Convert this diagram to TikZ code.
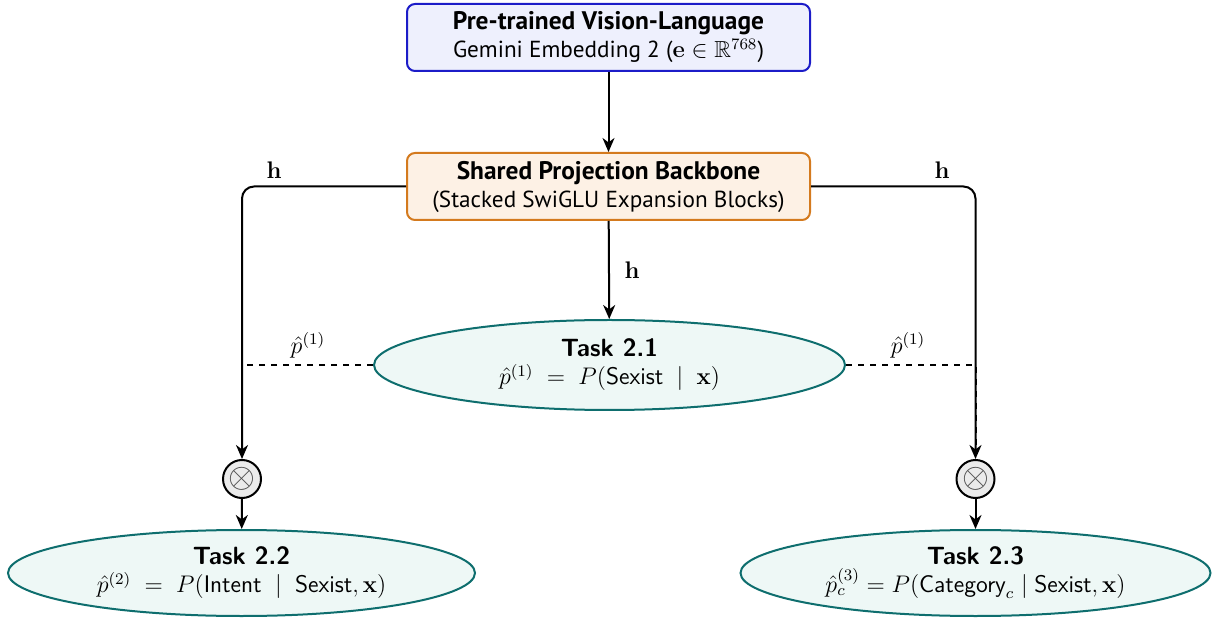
\documentclass[tikz,border=0pt]{standalone}
\usepackage[no-math]{fontspec}
\usepackage{amsmath,amssymb}
\newfontfamily\boxfont{PT Sans}
\usetikzlibrary{shapes.geometric,arrows.meta,calc}
\definecolor{topfill}{HTML}{EEF0FD}
\definecolor{topdraw}{HTML}{1C1CC8}
\definecolor{bbfill}{HTML}{FDF1E5}
\definecolor{bbdraw}{HTML}{D47A1E}
\definecolor{elfill}{HTML}{EEF8F6}
\definecolor{eldraw}{HTML}{0E6E6E}
\newcommand{\bigttl}[1]{{\fontsize{12.7}{14}\selectfont\bfseries #1}}
\newcommand{\taskttl}[1]{{\fontsize{12.5}{14}\selectfont\sffamily\bfseries #1}}
\tikzset{
  boxnode/.style={draw, line width=1pt, rounded corners=4pt, minimum width=201.5pt, minimum height=33.5pt,
    align=center, inner sep=0pt, font=\boxfont\fontsize{11.6}{14}\selectfont},
  topbox/.style={boxnode, fill=topfill, draw=topdraw},
  bbbox/.style={boxnode, fill=bbfill, draw=bbdraw},
  taskell/.style={ellipse, draw=eldraw, line width=1pt, fill=elfill, align=center, inner sep=0pt,
    font=\fontsize{12}{14}\selectfont},
  mulnode/.style={circle, draw, line width=1pt, fill=black!8, minimum size=19pt, inner sep=0pt},
  conn/.style={line width=1pt, -{Stealth[length=7pt,width=6pt,inset=2.2pt]}},
  lbl/.style={font=\fontsize{11.5}{14}\selectfont},
}
\begin{document}
\begin{tikzpicture}[x=0.5pt,y=-0.5pt]
\useasboundingbox (0,0) rectangle (1214,619);
\node[topbox] (pre) at (608.5,37.5) {\bigttl{Pre-trained Vision-Language}\\Gemini Embedding 2 ($\mathbf{e}\in\mathbb{R}^{768}$)};
\node[bbbox] (bb) at (608.5,186.5) {\bigttl{Shared Projection Backbone}\\(Stacked SwiGLU Expansion Blocks)};
\node[taskell, minimum width=235.5pt, minimum height=45pt] (t21) at (609.5,365)
  {\taskttl{Task 2.1}\\$\hat{p}^{(1)}\;=\;P(\textsf{Sexist}\;\mid\;\mathbf{x})$};
\node[mulnode] (m1) at (242,479) {\color{black!70}\fontsize{16}{16}\selectfont$\otimes$};
\node[mulnode] (m2) at (975.5,479) {\color{black!70}\fontsize{16}{16}\selectfont$\otimes$};
\node[taskell, minimum width=233.5pt, minimum height=43pt] (t22) at (241.5,573)
  {\taskttl{Task 2.2}\\$\hat{p}^{(2)}\;=\;P(\textsf{Intent}\;\mid\;\textsf{Sexist},\mathbf{x})$};
\node[taskell, minimum width=235pt, minimum height=43pt] (t23) at (975.5,573)
  {\taskttl{Task 2.3}\\$\hat{p}^{(3)}_{c}=P(\textsf{Category}_{c}\mid\textsf{Sexist},\mathbf{x})$};
\coordinate (jl) at (m1.north |- t21.west);
\coordinate (jr) at (m2.north |- t21.east);
\draw[conn] (pre) -- (bb);
\draw[conn] (bb) -- node[lbl, right=4pt] {$\mathbf{h}$} (t21);
\draw[conn, rounded corners=6pt] (bb.west) -- (m1.north |- bb.west) -- (m1.north);
\draw[conn, rounded corners=6pt] (bb.east) -- (m2.north |- bb.east) -- (m2.north);
\node[lbl] (hl) at (274,170) {$\mathbf{h}$};
\node[lbl] (hr) at (942,170) {$\mathbf{h}$};
\draw[line width=1pt, dashed] (t21.west) -- (jl) -- ($(m1.north)+(0,-10)$);
\draw[line width=1pt, dashed] (t21.east) -- (jr) -- ($(m2.north)+(0,-10)$);
\node[lbl] (pl) at (308,345) {$\hat{p}^{(1)}$};
\node[lbl] (pr) at (908,345) {$\hat{p}^{(1)}$};
\draw[conn] (m1) -- (t22);
\draw[conn] (m2) -- (t23);
\end{tikzpicture}
\end{document}
